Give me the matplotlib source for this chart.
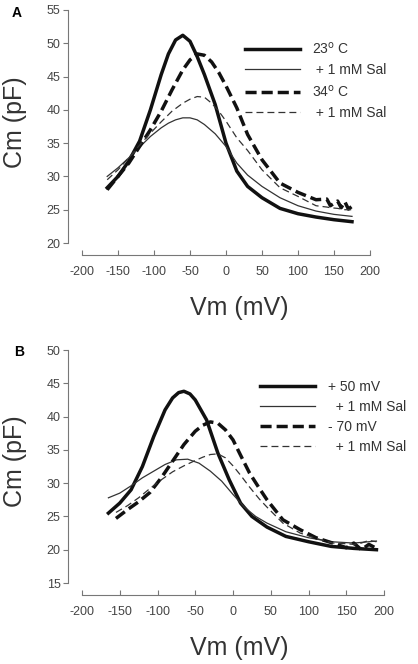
import matplotlib
matplotlib.use("Agg")
import matplotlib.pyplot as plt

plt.rcParams["font.family"] = ["Liberation Sans", "DejaVu Sans"]
plt.rcParams["lines.scale_dashes"] = False
plt.rcParams["axes.unicode_minus"] = False

# Panel A: temperature
vm_a = [-165, -150, -135, -120, -105, -90, -80, -70, -60, -50, -40, -30, -15, 0, 15, 30, 50, 75, 100, 125, 150, 175]
cm_23 = [28.3, 30.0, 32.3, 35.3, 40.0, 45.3, 48.4, 50.5, 51.2, 50.3, 48.0, 45.3, 40.8, 35.0, 30.8, 28.5, 26.8, 25.2, 24.4, 23.9, 23.5, 23.2]
cm_23_sal = [30.0, 31.3, 32.8, 34.4, 36.0, 37.3, 38.0, 38.5, 38.8, 38.8, 38.5, 37.8, 36.4, 34.5, 32.0, 30.2, 28.5, 26.8, 25.6, 24.8, 24.3, 24.0]
vm_a34 = [-165, -150, -135, -120, -105, -90, -75, -60, -50, -40, -30, -20, -10, 0, 15, 30, 50, 75, 100, 125, 140, 145, 155, 160, 165, 170, 175]
cm_34 = [28.0, 30.0, 32.0, 34.5, 37.0, 39.8, 43.0, 46.0, 47.5, 48.4, 48.2, 47.2, 45.6, 43.6, 40.3, 36.3, 32.5, 29.0, 27.6, 26.5, 26.6, 25.6, 26.3, 25.3, 26.2, 25.1, 25.5]
cm_34_sal = [29.5, 31.0, 32.8, 34.7, 36.5, 38.2, 39.8, 41.0, 41.6, 42.0, 41.9, 41.0, 39.8, 38.3, 35.8, 33.9, 31.0, 28.3, 27.0, 25.6, 25.4, 25.3, 25.2, 25.1, 25.0, 25.0, 25.0]

# Panel B: holding potential
vm_b = [-165, -150, -135, -120, -105, -90, -80, -72, -65, -57, -50, -35, -20, -5, 10, 25, 45, 70, 100, 130, 160, 190]
cm_p50 = [25.5, 27.0, 29.0, 32.5, 37.0, 41.0, 42.8, 43.6, 43.8, 43.4, 42.5, 39.5, 34.5, 30.5, 27.0, 25.0, 23.4, 22.0, 21.2, 20.5, 20.2, 20.0]
vm_b_sal = [-165, -150, -135, -120, -105, -90, -75, -60, -45, -30, -15, 0, 15, 30, 45, 70, 100, 130, 160, 190]
cm_p50_sal = [27.8, 28.5, 29.6, 30.8, 31.8, 32.8, 33.5, 33.6, 33.0, 31.8, 30.3, 28.3, 26.4, 25.0, 24.0, 22.7, 21.8, 21.2, 21.0, 21.3]
vm_b70 = [-155, -140, -125, -110, -95, -80, -65, -50, -40, -30, -20, -10, 0, 10, 22, 35, 45, 66, 89, 110, 132, 150, 160, 170, 180, 190]
cm_m70 = [24.7, 26.0, 27.2, 28.6, 30.8, 33.3, 35.8, 37.8, 38.7, 39.2, 39.0, 38.0, 36.5, 34.2, 31.5, 29.2, 27.5, 24.5, 23.0, 21.8, 21.0, 20.3, 21.0, 20.0, 20.8, 20.2]
cm_m70_sal = [25.6, 26.6, 27.8, 29.2, 30.5, 31.7, 32.6, 33.4, 33.9, 34.3, 34.4, 33.8, 32.6, 31.2, 29.4, 27.6, 26.4, 24.0, 22.5, 21.7, 21.0, 20.9, 20.8, 21.0, 21.4, 21.2]

fig = plt.figure(figsize=(4.18, 6.64), dpi=100)
W, H = 418, 664


def style_axes(ax, ylo, yhi):
    ax.set_xlim(-200, 200)
    ax.set_ylim(ylo, yhi)
    for s in ["top", "right"]:
        ax.spines[s].set_visible(False)
    ax.spines["left"].set_position(("outward", 10))
    ax.spines["bottom"].set_position(("outward", 8.5))
    for s in ["left", "bottom"]:
        ax.spines[s].set_color("#777777")
        ax.spines[s].set_linewidth(0.8)
    ax.set_xticks(range(-200, 201, 50))
    ax.set_yticks(range(ylo, yhi + 1, 5))
    ax.tick_params(axis="x", direction="in", length=3.5, width=0.8, color="#777777",
                   labelsize=9, labelcolor="#444444", pad=8)
    ax.tick_params(axis="y", direction="out", length=3.5, width=0.8, color="#777777",
                   labelsize=9, labelcolor="#444444", pad=2)


thick, thin = 2.5, 0.9
col = "#111111"

# ---- A ----
ax1 = fig.add_axes([82 / W, 1 - 243 / H, 288 / W, 233 / H])
ax1.plot(vm_a, cm_23, color=col, lw=thick, label="23$^{\\rm o}$ C")
ax1.plot(vm_a, cm_23_sal, color="#333333", lw=thin, label=" + 1 mM Sal")
ax1.plot(vm_a34, cm_34, color=col, lw=thick, dashes=(8, 3.6), label="34$^{\\rm o}$ C")
ax1.plot(vm_a34, cm_34_sal, color="#333333", lw=thin, dashes=(5, 2.9), label=" + 1 mM Sal")
style_axes(ax1, 20, 55)
ax1.legend(loc="upper left", bbox_to_anchor=(245 / W, 1 - 41 / H), bbox_transform=fig.transFigure,
           frameon=False, fontsize=10, handlelength=3.96, handletextpad=0.86,
           labelspacing=0.45, borderpad=0, borderaxespad=0, labelcolor="#333333")

# ---- B ----
ax2 = fig.add_axes([82 / W, 1 - 583 / H, 302 / W, 233 / H])
ax2.plot(vm_b, cm_p50, color=col, lw=thick, label="+ 50 mV")
ax2.plot(vm_b_sal, cm_p50_sal, color="#333333", lw=thin, label="  + 1 mM Sal")
ax2.plot(vm_b70, cm_m70, color=col, lw=thick, dashes=(8, 3.6), label="- 70 mV")
ax2.plot(vm_b70, cm_m70_sal, color="#333333", lw=thin, dashes=(5, 2.9), label="  + 1 mM Sal")
style_axes(ax2, 15, 50)
ax2.legend(loc="upper left", bbox_to_anchor=(260 / W, 1 - 380 / H), bbox_transform=fig.transFigure,
           frameon=False, fontsize=10, handlelength=3.96, handletextpad=0.9,
           labelspacing=0.43, borderpad=0, borderaxespad=0, labelcolor="#333333")

# axis labels and panel letters
for yc in (122, 461):
    fig.text(15 / W, 1 - yc / H, "Cm (pF)", rotation=90, ha="center", va="center",
             fontsize=18, color="#333333")
for yc in (308, 648):
    fig.text(239 / W, 1 - yc / H, "Vm (mV)", ha="center", va="center",
             fontsize=18, color="#333333")
fig.text(17 / W, 1 - 13 / H, "A", ha="center", va="center", fontsize=10, fontweight="bold")
fig.text(19 / W, 1 - 352 / H, "B", ha="center", va="center", fontsize=10, fontweight="bold")

fig.savefig("out.png", dpi=100)
